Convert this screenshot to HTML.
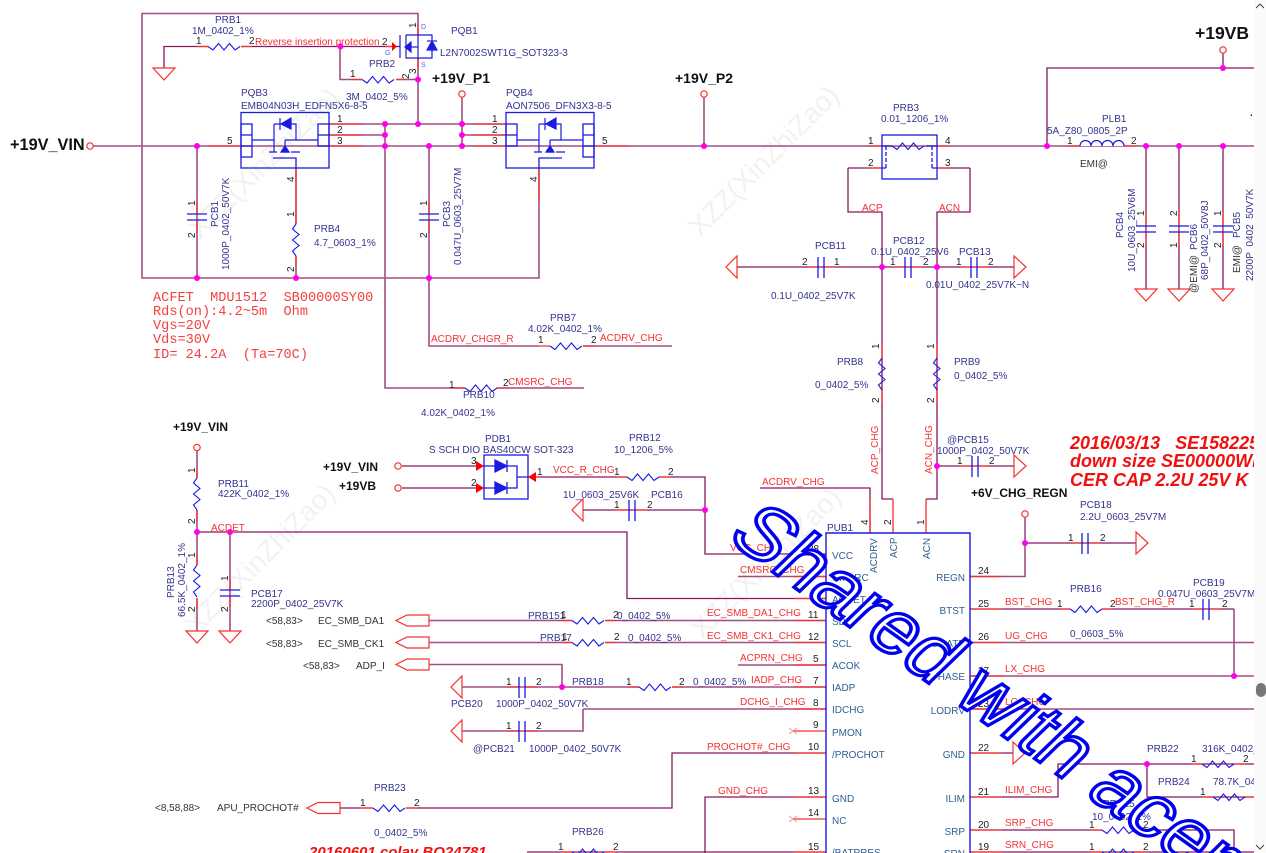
<!DOCTYPE html>
<html><head><meta charset="utf-8"><style>
html,body{margin:0;padding:0;background:#fff;width:1266px;height:853px;overflow:hidden}
svg{display:block;overflow:hidden;filter:blur(.3px)}
text{font-family:"Liberation Sans",sans-serif;font-size:10px;white-space:pre}
.l{fill:#33338f}.k{fill:#222}.r{fill:#f53030}.p{fill:#2f5f92}.d{fill:#333}
.b{font-weight:bold;fill:#111}
.i{font-weight:bold;font-style:italic;fill:#f01010;font-size:18px}
.m{font-family:"Liberation Mono",monospace;font-size:13.6px;fill:#f54040}
.w{font-size:28px;fill:#f2f2f2}
.s{font-size:80px;fill:#fff;stroke:#0000ee;stroke-width:3.5}
</style></head><body>
<svg width="1266" height="853" viewBox="0 0 1266 853" xmlns="http://www.w3.org/2000/svg">
<defs>
<path id="r" d="M0 0l5 3.5 5.5-6.5 5.5 6.5 5.5-6.5 5.5 6.5 5-3.5" fill="none" stroke="#1a1ae0" stroke-width="1.1"/>
<g id="c" stroke="#1a1ae0" stroke-width="1.3"><path d="M-10-3H10M-10 3H10" fill="none"/></g>
<g id="ch" stroke="#1a1ae0" stroke-width="1.3"><path d="M-3-10V11M3-10V11" fill="none"/></g>
<path id="tr" d="M-11 0H11L0 12Z" fill="#fff" stroke="#f53030" stroke-width="1.2"/>
<path id="ta" d="M0-11V11L12 0Z" fill="#fff" stroke="#f53030" stroke-width="1.2"/>
<path id="tl" d="M0-11V11L-11 0Z" fill="#fff" stroke="#f53030" stroke-width="1.2"/>
<path id="pt" d="M0-5.5H-22L-33 0-22 5.5H0Z" fill="#fff" stroke="#f53030" stroke-width="1.2" transform="translate(33 0)"/>
<circle id="o" r="3.2" fill="#fff" stroke="#f53030" stroke-width="1.2"/>
<circle id="j" r="3" fill="#ff00ee"/>
<g id="fet" fill="none" stroke="#1a1ae0" stroke-width="1.2">
<path d="M274 124V152M274 124H296V140M285 140H318M285 140V147M269 152H277M282 152H289M291 152H300M280 124H291"/>
<path d="M291 118V129L281 124Z" fill="#1a1ae0"/><path d="M280 118V130"/>
<path d="M285 146L281 152H289Z" fill="#1a1ae0"/>
</g>
</defs>

<!-- watermarks -->
<g>
<text class="w" transform="translate(200 240) rotate(-45)">XZZ(XinZhiZao)</text>
<text class="w" transform="translate(700 238) rotate(-45)">XZZ(XinZhiZao)</text>
<text class="w" transform="translate(196 636) rotate(-45)">XZZ(XinZhiZao)</text>
<text class="w" transform="translate(702 640) rotate(-45)">XZZ(XinZhiZao)</text>
</g>

<!-- heavy wires -->
<path fill="none" stroke="#a04f80" stroke-width="1.6" d="
M93 146H1254
M142 146V13.5H418V35
M142 13.5V278H539V168
M197 146V278M429 146V346H538M583 346H672
M385 124V388H465M497 388H584
M329 124H506M329 135H385M462 135H506
M418 58V124M340 46.5V79.5H362M396 79.5H418
M462 97V146M704 97V146
M296 168V224M296 256V278
M1234 609V676
M970 642.5H1254M970 676H1254M970 709H1254
M429 620.5H572M605 620.5H826M429 642.5H572M605 642.5H826
M429 664.5H562V687
M197 450V478M197 510V565M197 598V631M230 532V631
M1025 517V576.5H970
M738 665H826M738 576.5H826M462 687H639M672 687H826
M583 709H826M451 731H583V709
"/>
<!-- thin dark wires -->
<path fill="none" stroke="#86185c" stroke-width="1.3" d="
M164 68V46.5H208M241 46.5H397
M848 168V212H882V499H893M970 168V212H937V499H926
M848 168H882M937 168H970
M737 267H1014
M1047 146V68H1254
M1146 146V289M1179 146V289M1223 146V289M1223 53V68
M937 466H1014M1025 543H1136
M970 609H1070M1102 609H1234
M970 753H1013
M970 797H1058V764H1254M1147 764V797H1254
M970 830H1102M1134 830H1234V853
M970 852H1254
M197 532H627V598.5H826
M402 466H484M402 488H484M528 477H627M659 477H705V554H826
M583 510H705
M760 488H870V533
M826 753H672V808H406M373 808H340
M826 797H705V853
M527 852H826
"/>
<!-- red pin stubs -->
<path fill="none" stroke="#f53030" stroke-width="1.3" d="
M197 46.5H208M241 46.5H252M397 46.5H385M352 79.5H362M396 79.5H406
M418 25V35M418 58V68
M329 124H362M329 135H362M329 146H362M473 124H506M473 135H506M473 146H506
M208 146H241M594 146H627
M197 202V214M197 220V233M429 202V214M429 220V233
M296 168V202M296 202V224M296 256V267M539 168V202
M1179 212V226M1179 232V245
M868 146H882M937 146H948M868 168H882M937 168H948
M1069 146H1080M1124 146H1135
M808 267H818M824 267H835M893 267H905M911 267H922M960 267H971M977 267H988
M1146 212V226M1146 232V245M1223 212V226M1223 232V245
M882 343V358M882 390V403M937 343V358M937 390V403
M960 466H972M977 466H989M1070 543H1082M1088 543H1100
M870 499V533M893 499V533M926 499V533
M970 576.5H1002M970 609H1002M970 642.5H1002M970 676H1002M970 709H1002M970 753H1002M970 797H1002M970 830H1002M970 852H1002
M794 555H826M794 576.5H826M794 598.5H826M794 620.5H826M794 642.5H826M794 665H826M794 687H826M794 709H826M793 731H826M794 753H826M794 797H826M793 819H826M794 852H826
M1059 609H1070M1102 609H1112M1192 609H1203M1209 609H1220
M1191 764H1202M1234 764H1245M1202 797H1213M1245 797H1254M1091 830H1102M1134 830H1145M1091 852H1102M1134 852H1145
M616 477H627M659 477H670M530 477H540M614 510H629M635 510H647
M507 687H519M525 687H537M507 731H519M525 731H537
M561 620.5H572M605 620.5H616M561 642.5H572M605 642.5H616M628 687H639M672 687H683
M361 808H373M406 808H417M562 852H572M605 852H616
M197 470V478M197 510V521M197 555V565M197 598V609M230 578V590M230 596V607
M538 346H550M583 346H594M454 388H465M497 388H508
"/>

<!-- MOSFET PQB1 -->
<g fill="none" stroke="#1a1ae0" stroke-width="1.2">
<path d="M400 35V58M406 35H432V58H406V35"/>
<path d="M418 35V58M400 46.5H397"/>
<path d="M406 47H418"/>
<path d="M411 42V52L405 47Z" fill="#1a1ae0"/>
<path d="M432 42V52"/>
<path d="M432 41L427 50H437Z" fill="#1a1ae0"/><path d="M427 41H437"/>
</g>
<path d="M392 42V51L397 46.5Z" fill="#f00"/>

<!-- PQB3 / PQB4 -->
<g fill="none" stroke="#1a1ae0" stroke-width="1.3">
<rect x="241" y="112.5" width="88" height="55.5"/>
<rect x="241" y="124" width="11" height="33"/><path d="M241 135H252M241 146H252"/>
<rect x="318" y="124" width="11" height="22"/><path d="M318 135H329"/>
<path d="M252 140H274"/>
<path d="M273 158H296V168"/>
<rect x="506" y="112.5" width="88" height="55.5"/>
<rect x="506" y="124" width="11" height="22"/><path d="M506 135H517"/>
<rect x="583" y="124" width="11" height="33"/><path d="M583 135H594M583 146H594"/>
<path d="M517 140H539"/>
<path d="M539 168V158H562"/>
</g>
<use href="#fet"/>
<use href="#fet" x="265"/>

<!-- PRB3 -->
<g fill="none" stroke="#1a1ae0" stroke-width="1.3">
<rect x="882" y="135" width="55" height="44"/>
<path d="M882 146H892M926 146H937"/>
<path d="M886 146V168M932 146V168" stroke-dasharray="4 2"/>
<path d="M882 168H886M932 168H937"/>
</g>
<use href="#r" x="892" y="146"/>
<!-- PLB1 -->
<path d="M1080 146a5.5 5.5 0 0 1 11 0a5.5 5.5 0 0 1 11 0a5.5 5.5 0 0 1 11 0a5.5 5.5 0 0 1 11 0" fill="#fff" stroke="#1a1ae0" stroke-width="1.2"/>

<!-- resistors -->
<use href="#r" x="208" y="46.5"/><use href="#r" x="362" y="79.5"/>
<use href="#r" x="550" y="346"/><use href="#r" x="465" y="388"/>
<use href="#r" transform="translate(296 224) rotate(90)"/>
<use href="#r" transform="translate(882 358) rotate(90)"/>
<use href="#r" transform="translate(937 358) rotate(90)"/>
<use href="#r" transform="translate(197 478) rotate(90)"/>
<use href="#r" transform="translate(197 565) rotate(90)"/>
<use href="#r" x="627" y="477"/><use href="#r" x="572" y="620.5"/><use href="#r" x="572" y="642.5"/>
<use href="#r" x="639" y="687"/><use href="#r" x="373" y="808"/><use href="#r" x="572" y="852"/>
<use href="#r" x="1070" y="609"/><use href="#r" x="1202" y="764"/><use href="#r" x="1213" y="797"/>
<use href="#r" x="1102" y="830"/><use href="#r" x="1102" y="852"/>

<!-- capacitors -->
<path fill="none" stroke="#fff" stroke-width="5" d="M197 217H197.1M429 217H429.1M1146 229H1146.1M1179 229H1179.1M1223 229H1223.1M230 593H230.1"/>
<use href="#c" x="197" y="217"/><use href="#c" x="429" y="217"/>
<use href="#c" x="1146" y="229"/><use href="#c" x="1179" y="229"/><use href="#c" x="1223" y="229"/>
<use href="#c" x="230" y="593"/>
<path stroke="#fff" stroke-width="5" d="M821 267H821.1M908 267H908.1M974 267H974.1M974.5 466H974.6M1085 543H1085.1M1206 609H1206.1M632 510H632.1M522 687H522.1M522 731H522.1"/>
<use href="#ch" x="821" y="267"/><use href="#ch" x="908" y="267"/><use href="#ch" x="974" y="267"/>
<use href="#ch" x="975" y="466"/><use href="#ch" x="1085" y="543"/><use href="#ch" x="1206" y="609"/>
<use href="#ch" x="632" y="510"/><use href="#ch" x="522" y="687"/><use href="#ch" x="522" y="731"/>

<!-- grounds / power -->
<use href="#tr" x="164" y="68"/>
<use href="#tl" x="737" y="267"/><use href="#ta" x="1014" y="267"/>
<use href="#tr" x="1146" y="289"/><use href="#tr" x="1179" y="289"/><use href="#tr" x="1223" y="289"/>
<use href="#ta" x="1014" y="466"/><use href="#ta" x="1136" y="543"/><use href="#ta" x="1013" y="753"/>
<use href="#tr" x="197" y="631"/><use href="#tr" x="230" y="631"/>
<use href="#tl" x="583" y="510"/><use href="#tl" x="462" y="687"/><use href="#tl" x="462" y="731"/>
<use href="#pt" x="396" y="620.5"/><use href="#pt" x="396" y="642.5"/><use href="#pt" x="396" y="664.5"/>
<use href="#pt" x="307" y="808"/>
<path stroke="#e8a090" stroke-width="1" d="M789 728L797 734M789 734L797 728M789 816L797 822M789 822L797 816"/>

<!-- terminals -->
<use href="#o" x="90" y="146"/><use href="#o" x="462" y="94"/><use href="#o" x="704" y="94"/><use href="#o" x="1223" y="50"/>
<use href="#o" x="197" y="447.5"/><use href="#o" x="398" y="466"/><use href="#o" x="398" y="488"/><use href="#o" x="1025" y="514"/>

<!-- PDB1 -->
<g fill="none" stroke="#1a1ae0" stroke-width="1.3">
<rect x="484" y="455" width="44" height="44"/>
<path d="M484 466H517V488H484M517 477H528"/>
<path d="M495 460V472L507 466Z" fill="#1a1ae0"/><path d="M507 460V472"/>
<path d="M495 482V494L507 488Z" fill="#1a1ae0"/><path d="M507 482V494"/>
</g>
<path d="M476 461V471L484 466ZM476 483V493L484 488ZM536 472V482L528 477Z" fill="#f00"/>

<!-- IC -->
<path d="M826 853V533H970V853" fill="#fff" stroke="#1a1ae0" stroke-width="1.4"/>

<!-- junctions -->
<g>
<use href="#j" x="197" y="146"/><use href="#j" x="385" y="124"/><use href="#j" x="385" y="135"/><use href="#j" x="385" y="146"/>
<use href="#j" x="418" y="124"/><use href="#j" x="462" y="124"/><use href="#j" x="462" y="135"/><use href="#j" x="462" y="146"/>
<use href="#j" x="429" y="146"/><use href="#j" x="704" y="146"/><use href="#j" x="1047" y="146"/><use href="#j" x="1146" y="146"/>
<use href="#j" x="1179" y="146"/><use href="#j" x="1223" y="146"/><use href="#j" x="1223" y="68"/>
<use href="#j" x="340.5" y="46.5"/><use href="#j" x="418" y="79.5"/>
<use href="#j" x="197" y="278"/><use href="#j" x="296" y="278"/><use href="#j" x="429" y="278"/>
<use href="#j" x="882" y="267"/><use href="#j" x="937" y="267"/><use href="#j" x="937" y="466"/>
<use href="#j" x="197" y="532"/><use href="#j" x="230" y="532"/><use href="#j" x="705" y="510"/>
<use href="#j" x="562" y="687"/><use href="#j" x="1025" y="543"/><use href="#j" x="1234" y="676"/><use href="#j" x="1147" y="764"/>
</g>

<!-- labels top-left -->
<text class="l" x="215" y="23">PRB1</text><text class="l" x="192" y="34">1M_0402_1%</text>
<text class="k" x="196" y="44">1</text><text class="k" x="249" y="44">2</text>
<text class="r" x="255" y="45">Reverse insertion protection</text>
<text class="k" x="382" y="45">2</text>
<text x="385" y="55" style="font-size:7px;fill:#5a5aff">G</text><text x="421" y="29" style="font-size:7px;fill:#5a5aff">D</text><text x="421" y="67" style="font-size:7px;fill:#5a5aff">S</text>
<text class="k" transform="translate(416 28) rotate(-90)">1</text><text class="k" transform="translate(416 74) rotate(-90)">3</text>
<text class="l" x="451" y="34">PQB1</text><text class="l" x="440" y="56">L2N7002SWT1G_SOT323-3</text>
<text class="l" x="369" y="67">PRB2</text><text class="k" x="350" y="77">1</text><text class="k" transform="translate(409 79) rotate(-90)">2</text>
<text class="l" x="346" y="100">3M_0402_5%</text>
<text class="b" x="432" y="83" style="font-size:14px">+19V_P1</text>
<text class="l" x="241" y="96">PQB3</text><text class="l" x="241" y="109">EMB04N03H_EDFN5X6-8-5</text>
<text class="l" x="506" y="96">PQB4</text><text class="l" x="506" y="109">AON7506_DFN3X3-8-5</text>
<text class="k" x="337" y="122">1</text><text class="k" x="337" y="133">2</text><text class="k" x="337" y="144">3</text>
<text class="k" x="492" y="122">1</text><text class="k" x="492" y="133">2</text><text class="k" x="492" y="144">3</text>
<text class="k" x="227" y="144">5</text><text class="k" x="602" y="144">5</text>
<text class="k" transform="translate(294 182) rotate(-90)">4</text><text class="k" transform="translate(537 182) rotate(-90)">4</text>
<text class="b" x="10" y="150" style="font-size:16.3px">+19V_VIN</text>
<text class="k" transform="translate(195 206) rotate(-90)">1</text><text class="k" transform="translate(195 238) rotate(-90)">2</text>
<text class="l" transform="translate(218 227) rotate(-90)">PCB1</text><text class="l" transform="translate(229 270) rotate(-90)">1000P_0402_50V7K</text>
<text class="k" transform="translate(427 206) rotate(-90)">1</text><text class="k" transform="translate(427 238) rotate(-90)">2</text>
<text class="l" transform="translate(450 227) rotate(-90)">PCB3</text><text class="l" transform="translate(461 265) rotate(-90)">0.047U_0603_25V7M</text>
<text class="k" transform="translate(294 217) rotate(-90)">1</text><text class="k" transform="translate(294 272) rotate(-90)">2</text>
<text class="l" x="314" y="232">PRB4</text><text class="l" x="314" y="246">4.7_0603_1%</text>
<text class="m" x="153" y="301">ACFET  MDU1512  SB00000SY00</text>
<text class="m" x="153" y="315">Rds(on):4.2~5m  Ohm</text>
<text class="m" x="153" y="329">Vgs=20V</text>
<text class="m" x="153" y="343">Vds=30V</text>
<text class="m" x="153" y="358">ID= 24.2A  (Ta=70C)</text>
<text class="l" x="550" y="321">PRB7</text><text class="l" x="528" y="332">4.02K_0402_1%</text>
<text class="r" x="431" y="342">ACDRV_CHGR_R</text><text class="k" x="538" y="343">1</text><text class="k" x="591" y="343">2</text><text class="r" x="600" y="341">ACDRV_CHG</text>
<text class="k" x="449" y="388">1</text><text class="l" x="463" y="398">PRB10</text><text class="k" x="503" y="386">2</text><text class="r" x="508" y="385">CMSRC_CHG</text>
<text class="l" x="421" y="416">4.02K_0402_1%</text>

<!-- labels top-right -->
<text class="b" x="675" y="83" style="font-size:14px">+19V_P2</text>
<text class="l" x="893" y="111">PRB3</text><text class="l" x="881" y="122">0.01_1206_1%</text>
<text class="k" x="868" y="144">1</text><text class="k" x="945" y="144">4</text><text class="k" x="868" y="166">2</text><text class="k" x="945" y="166">3</text>
<text class="r" x="862" y="211">ACP</text><text class="r" x="939" y="211">ACN</text>
<text class="l" x="815" y="249">PCB11</text><text class="l" x="893" y="244">PCB12</text><text class="l" x="871" y="255">0.1U_0402_25V6</text><text class="l" x="959" y="255">PCB13</text>
<text class="k" x="802" y="265">2</text><text class="k" x="834" y="265">1</text><text class="k" x="890" y="265">1</text><text class="k" x="923" y="265">2</text><text class="k" x="956" y="265">1</text><text class="k" x="988" y="265">2</text>
<text class="l" x="771" y="299">0.1U_0402_25V7K</text><text class="l" x="926" y="288">0.01U_0402_25V7K~N</text>
<text class="b" x="1195" y="39" style="font-size:17.5px">+19VB</text>
<text class="l" x="1102" y="122">PLB1</text><text class="l" x="1047" y="134">5A_Z80_0805_2P</text>
<text class="k" x="1067" y="144">1</text><text class="k" x="1131" y="144">2</text><text class="d" x="1080" y="167">EMI@</text>
<text class="l" transform="translate(1123 238) rotate(-90)">PCB4</text><text class="l" transform="translate(1135 272) rotate(-90)">10U_0603_25V6M</text>
<text class="k" transform="translate(1144 216) rotate(-90)">1</text><text class="k" transform="translate(1144 248) rotate(-90)">2</text>
<text class="k" transform="translate(1177 216) rotate(-90)">2</text><text class="k" transform="translate(1177 248) rotate(-90)">1</text>
<text class="k" transform="translate(1221 216) rotate(-90)">1</text><text class="k" transform="translate(1221 248) rotate(-90)">2</text>
<text class="d" transform="translate(1197 293) rotate(-90)">@EMI@</text><text class="l" transform="translate(1197 250) rotate(-90)">PCB6</text><text class="l" transform="translate(1208 280) rotate(-90)">68P_0402_50V8J</text>
<text class="d" transform="translate(1240 273) rotate(-90)">EMI@</text><text class="l" transform="translate(1240 238) rotate(-90)">PCB5</text><text class="l" transform="translate(1253 281) rotate(-90)">2200P_0402_50V7K</text>
<text class="k" x="1250" y="116" style="font-weight:bold">.</text>

<text class="l" x="837" y="365">PRB8</text><text class="l" x="815" y="388">0_0402_5%</text><text class="l" x="954" y="365">PRB9</text><text class="l" x="954" y="379">0_0402_5%</text>
<text class="k" transform="translate(879 349) rotate(-90)">1</text><text class="k" transform="translate(879 403) rotate(-90)">2</text>
<text class="k" transform="translate(934 349) rotate(-90)">1</text><text class="k" transform="translate(934 403) rotate(-90)">2</text>
<text class="r" transform="translate(878 474) rotate(-90)">ACP_CHG</text><text class="r" transform="translate(932 474) rotate(-90)">ACN_CHG</text>
<text class="l" x="947" y="443">@PCB15</text><text class="l" x="937" y="454">1000P_0402_50V7K</text>
<text class="k" x="957" y="464">1</text><text class="k" x="989" y="464">2</text>
<text class="i" x="1070" y="449">2016/03/13   SE158225</text><text class="i" x="1070" y="467">down size SE00000WR</text><text class="i" x="1070" y="486">CER CAP 2.2U 25V K .</text>
<text class="b" x="971" y="497" style="font-size:12px">+6V_CHG_REGN</text>
<text class="l" x="1080" y="508">PCB18</text><text class="l" x="1080" y="520">2.2U_0603_25V7M</text>
<text class="k" x="1068" y="541">1</text><text class="k" x="1100" y="541">2</text>

<!-- left block labels -->
<text class="b" x="173" y="431" style="font-size:12px">+19V_VIN</text>
<text class="k" transform="translate(195 473) rotate(-90)">1</text><text class="k" transform="translate(195 524) rotate(-90)">2</text>
<text class="k" transform="translate(195 558) rotate(-90)">1</text><text class="k" transform="translate(195 612) rotate(-90)">2</text>
<text class="l" x="218" y="487">PRB11</text><text class="l" x="218" y="497">422K_0402_1%</text>
<text class="l" transform="translate(174 598) rotate(-90)">PRB13</text><text class="l" transform="translate(185 617) rotate(-90)">66.5K_0402_1%</text>
<text class="r" x="211" y="531">ACDET</text>
<text class="k" transform="translate(228 581) rotate(-90)">1</text><text class="k" transform="translate(228 612) rotate(-90)">2</text>
<text class="l" x="251" y="597">PCB17</text><text class="l" x="251" y="607">2200P_0402_25V7K</text>
<text class="b" x="323" y="471" style="font-size:12px">+19V_VIN</text><text class="b" x="339" y="490" style="font-size:12px">+19VB</text>
<text class="l" x="485" y="442">PDB1</text><text class="l" x="429" y="453">S SCH DIO BAS40CW SOT-323</text>
<text class="k" x="471" y="464">3</text><text class="k" x="471" y="486">2</text><text class="k" x="537" y="475">1</text>
<text class="r" x="553" y="473">VCC_R_CHG</text><text class="k" x="614" y="475">1</text><text class="k" x="668" y="475">2</text>
<text class="l" x="629" y="441">PRB12</text><text class="l" x="614" y="453">10_1206_5%</text>
<text class="l" x="563" y="498">1U_0603_25V6K</text><text class="l" x="651" y="498">PCB16</text>
<text class="k" x="614" y="508">1</text><text class="k" x="647" y="508">2</text>
<text class="d" x="266" y="624">&lt;58,83&gt;</text><text class="d" x="318" y="624">EC_SMB_DA1</text>
<text class="d" x="266" y="647">&lt;58,83&gt;</text><text class="d" x="318" y="647">EC_SMB_CK1</text>
<text class="d" x="303" y="669">&lt;58,83&gt;</text><text class="d" x="356" y="669">ADP_I</text>
<text class="l" x="528" y="619">PRB151</text><text class="k" x="561" y="618">1</text><text class="k" x="613" y="618">2</text><text class="l" x="617" y="619">0_0402_5%</text>
<text class="l" x="540" y="641">PRB17</text><text class="k" x="562" y="640">1</text><text class="k" x="614" y="640">2</text><text class="l" x="628" y="641">0_0402_5%</text>
<text class="k" x="506" y="685">1</text><text class="k" x="536" y="685">2</text><text class="l" x="572" y="685">PRB18</text><text class="k" x="626" y="685">1</text><text class="k" x="679" y="685">2</text><text class="l" x="693" y="685">0_0402_5%</text>
<text class="l" x="451" y="707">PCB20</text><text class="l" x="496" y="707">1000P_0402_50V7K</text>
<text class="k" x="506" y="729">1</text><text class="k" x="536" y="729">2</text>
<text class="l" x="473" y="752">@PCB21</text><text class="l" x="529" y="752">1000P_0402_50V7K</text>
<text class="l" x="374" y="791">PRB23</text><text class="k" x="360" y="806">1</text><text class="k" x="414" y="806">2</text><text class="l" x="374" y="836">0_0402_5%</text>
<text class="d" x="155" y="811">&lt;8,58,88&gt;</text><text class="d" x="217" y="811">APU_PROCHOT#</text>
<text class="l" x="572" y="835">PRB26</text><text class="k" x="558" y="850">1</text><text class="k" x="613" y="850">2</text>
<text class="i" x="309" y="857" style="font-size:15px">20160601 colay BQ24781</text>

<!-- red nets left of IC -->
<text class="r" x="762" y="485">ACDRV_CHG</text><text class="r" x="730" y="551">VCC_CHG</text><text class="r" x="740" y="573">CMSRC_CHG</text>
<text class="r" x="707" y="616">EC_SMB_DA1_CHG</text><text class="r" x="707" y="639">EC_SMB_CK1_CHG</text>
<text class="r" x="740" y="661">ACPRN_CHG</text><text class="r" x="751" y="683">IADP_CHG</text><text class="r" x="740" y="705">DCHG_I_CHG</text>
<text class="r" x="707" y="750">PROCHOT#_CHG</text><text class="r" x="718" y="794">GND_CHG</text>
<!-- pin nums -->
<text class="k" x="808" y="552">28</text><text class="k" x="811" y="574">6</text><text class="k" x="811" y="596">6</text>
<text class="k" x="808" y="618">11</text><text class="k" x="808" y="640">12</text><text class="k" x="813" y="662">5</text><text class="k" x="813" y="684">7</text><text class="k" x="813" y="706">8</text><text class="k" x="813" y="728">9</text>
<text class="k" x="808" y="750">10</text><text class="k" x="808" y="794">13</text><text class="k" x="808" y="816">14</text><text class="k" x="808" y="850">15</text>
<text class="k" x="978" y="574">24</text><text class="k" x="978" y="607">25</text><text class="k" x="978" y="640">26</text><text class="k" x="978" y="674">27</text><text class="k" x="978" y="707">23</text><text class="k" x="978" y="751">22</text><text class="k" x="978" y="795">21</text><text class="k" x="978" y="828">20</text><text class="k" x="978" y="850">19</text>
<!-- right nets -->
<text class="r" x="1005" y="605">BST_CHG</text><text class="r" x="1005" y="639">UG_CHG</text><text class="r" x="1005" y="672">LX_CHG</text><text class="r" x="1005" y="705">LG_CHG</text>
<text class="r" x="1005" y="793">ILIM_CHG</text><text class="r" x="1005" y="826">SRP_CHG</text><text class="r" x="1005" y="848">SRN_CHG</text>
<text class="l" x="1070" y="592">PRB16</text><text class="l" x="1070" y="637">0_0603_5%</text><text class="k" x="1057" y="607">1</text><text class="k" x="1110" y="607">2</text>
<text class="r" x="1115" y="605">BST_CHG_R</text><text class="l" x="1193" y="586">PCB19</text><text class="l" x="1158" y="597">0.047U_0603_25V7M</text><text class="k" x="1189" y="607">1</text><text class="k" x="1222" y="607">2</text>
<text class="l" x="1147" y="752">PRB22</text><text class="l" x="1202" y="752">316K_0402_</text><text class="k" x="1191" y="762">1</text><text class="k" x="1243" y="762">2</text>
<text class="l" x="1158" y="785">PRB24</text><text class="l" x="1213" y="785">78.7K_04</text><text class="k" x="1200" y="795">1</text>
<text class="l" x="1103" y="807">PRB25</text><text class="l" x="1092" y="820">10_0402_1%</text><text class="k" x="1089" y="828">1</text><text class="k" x="1143" y="828">2</text><text class="k" x="1089" y="850">1</text><text class="k" x="1143" y="850">2</text>
<!-- IC labels -->
<text class="p" x="832" y="559">VCC</text><text class="p" x="832" y="581">CMSRC</text><text class="p" x="832" y="603">ACDET</text><text class="p" x="832" y="625">SDA</text><text class="p" x="832" y="647">SCL</text><text class="p" x="832" y="669">ACOK</text><text class="p" x="832" y="691">IADP</text><text class="p" x="832" y="713">IDCHG</text><text class="p" x="832" y="736">PMON</text><text class="p" x="832" y="758">/PROCHOT</text><text class="p" x="832" y="802">GND</text><text class="p" x="832" y="824">NC</text><text class="p" x="832" y="856">/BATPRES</text>
<g text-anchor="end"><text class="p" x="965" y="581">REGN</text><text class="p" x="965" y="614">BTST</text><text class="p" x="965" y="647">UGATE</text><text class="p" x="965" y="680">PHASE</text><text class="p" x="965" y="714">LODRV</text><text class="p" x="965" y="758">GND</text><text class="p" x="965" y="802">ILIM</text><text class="p" x="965" y="835">SRP</text><text class="p" x="965" y="857">SRN</text></g>
<text class="p" transform="translate(877 573) rotate(-90)">ACDRV</text><text class="p" transform="translate(897 558) rotate(-90)">ACP</text><text class="p" transform="translate(930 559) rotate(-90)">ACN</text>
<text class="l" x="827" y="531">PUB1</text>
<text class="k" transform="translate(868 525) rotate(-90)">4</text><text class="k" transform="translate(891 525) rotate(-90)">2</text><text class="k" transform="translate(924 525) rotate(-90)">1</text>

<!-- big watermark -->
<text class="s" transform="matrix(.807 .575 -.725 .70 725 538)">Shared with acer</text>

<!-- right strip -->
<rect x="1254" y="0" width="12" height="853" fill="#fafafa"/>
<rect x="1256" y="683" width="10" height="14" rx="5" fill="#777"/>
<path d="M1256 8l4-4 4 4M1256 845l4 4 4-4" fill="none" stroke="#444" stroke-width="1"/>
</svg>
</body></html>
